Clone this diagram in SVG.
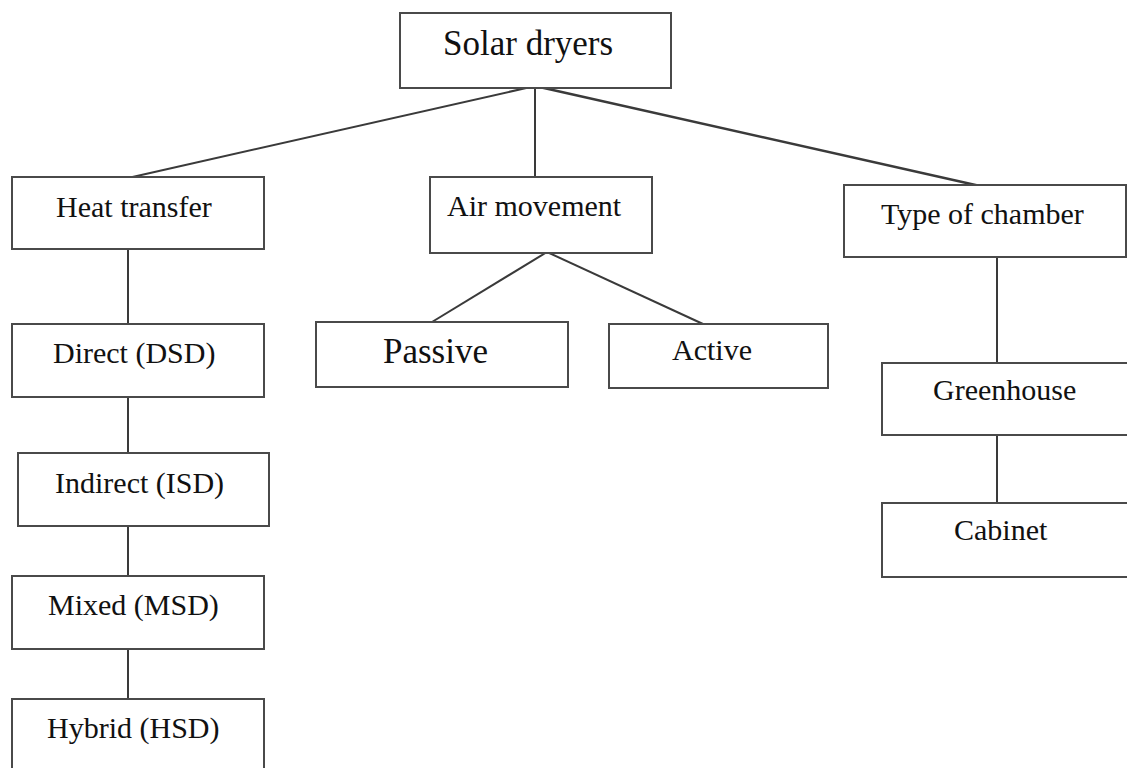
<svg xmlns="http://www.w3.org/2000/svg" width="1127" height="768" viewBox="0 0 1127 768">
<style>
.box{fill:#fff;stroke:#4a4a4a;stroke-width:2}
.t{font-family:"Liberation Serif","Times New Roman",serif;font-size:30px;fill:#111}
.big{font-size:35px}
.c{stroke:#3a3a3a;stroke-width:2;fill:none}
</style>
<rect width="1127" height="768" fill="#fff"/>
<g id="connectors">
<line class="c" x1="535" y1="86" x2="128" y2="178"/>
<line class="c" x1="535" y1="86" x2="535" y2="177"/>
<line class="c" x1="535" y1="86" x2="980" y2="186" style="stroke-width:2.6"/>
<line class="c" x1="128" y1="249" x2="128" y2="324"/>
<line class="c" x1="128" y1="397" x2="128" y2="453"/>
<line class="c" x1="128" y1="526" x2="128" y2="576"/>
<line class="c" x1="128" y1="649" x2="128" y2="699"/>
<line class="c" x1="547" y1="252" x2="432" y2="322"/>
<line class="c" x1="547" y1="252" x2="703" y2="324"/>
<line class="c" x1="997" y1="257" x2="997" y2="363"/>
<line class="c" x1="997" y1="435" x2="997" y2="503"/>
</g>
<g id="solar-dryers"><rect class="box" x="400" y="13" width="271" height="75"/><text class="t big" x="443" y="55">Solar dryers</text></g>
<g id="heat-transfer"><rect class="box" x="12" y="177" width="252" height="72"/><text class="t" x="56" y="217">Heat transfer</text></g>
<g id="direct"><rect class="box" x="12" y="324" width="252" height="73"/><text class="t" x="53" y="363">Direct (DSD)</text></g>
<g id="indirect"><rect class="box" x="18" y="453" width="251" height="73"/><text class="t" x="55" y="493">Indirect (ISD)</text></g>
<g id="mixed"><rect class="box" x="12" y="576" width="252" height="73"/><text class="t" x="48" y="615">Mixed (MSD)</text></g>
<g id="hybrid"><rect class="box" x="12" y="699" width="252" height="90"/><text class="t" x="47" y="738">Hybrid (HSD)</text></g>
<g id="air-movement"><rect class="box" x="430" y="177" width="222" height="76"/><text class="t" x="447" y="216">Air movement</text></g>
<g id="passive"><rect class="box" x="316" y="322" width="252" height="65"/><text class="t big" x="383" y="363">Passive</text></g>
<g id="active"><rect class="box" x="609" y="324" width="219" height="64"/><text class="t" x="672" y="360">Active</text></g>
<g id="type-of-chamber"><rect class="box" x="844" y="185" width="282" height="72"/><text class="t" x="881" y="224">Type of chamber</text></g>
<g id="greenhouse"><rect class="box" x="882" y="363" width="260" height="72"/><text class="t" x="933" y="400">Greenhouse</text></g>
<g id="cabinet"><rect class="box" x="882" y="503" width="260" height="74"/><text class="t" x="954" y="540">Cabinet</text></g>
</svg>
